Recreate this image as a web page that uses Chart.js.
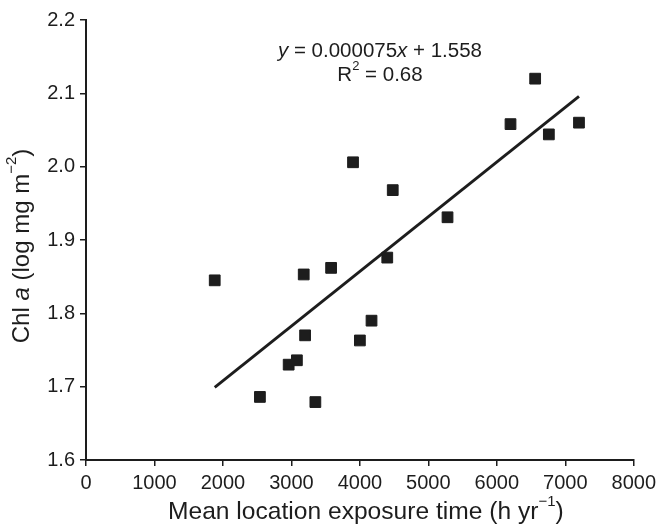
<!DOCTYPE html>
<html>
<head>
<meta charset="utf-8">
<script src="https://cdn.jsdelivr.net/npm/chart.js@4/dist/chart.umd.min.js"></script>
<style>
  html, body { margin: 0; padding: 0; background: #fff; }
  #wrap { width: 661px; height: 527px; position: relative; }
</style>
</head>
<body>
<div id="wrap"><canvas id="chart"></canvas></div>
<script>
// exposure time (h/yr) and chl a (log mg m-2)
var exposure = [1880, 2540, 2960, 3080, 3180, 3200, 3350, 3580, 3900, 4000, 4170, 4400, 4480, 5280, 6200, 6560, 6760, 7200]
var chl = [1.845, 1.686, 1.730, 1.736, 1.853, 1.770, 1.679, 1.862, 2.006, 1.763, 1.790, 1.876, 1.968, 1.931, 2.058, 2.120, 2.044, 2.060]

// fitted line end points
var fitX = [1880, 7200]
var fitY = [1.699, 2.096]

var xTicks = [0, 1000, 2000, 3000, 4000, 5000, 6000, 7000, 8000]
var yTicks = [1.6, 1.7, 1.8, 1.9, 2.0, 2.1, 2.2]

var ink = "#1d1d1d"
var FONT = "'Liberation Sans', Arial, sans-serif"

// draws a row of text pieces, some italic or superscript, centred on x
function drawRuns(ctx, runs, x, y, size){
    var fontOf = function(r){
        var s = r.sup ? Math.round(size*0.62) : size
        return (r.it ? "italic " : "") + s + "px " + FONT
    }
    var total = 0
    for (var i in runs){
        ctx.font = fontOf(runs[i])
        total += ctx.measureText(runs[i].t).width
    }
    var cx = x - total/2
    for (var i in runs){
        var r = runs[i]
        ctx.font = fontOf(r)
        ctx.fillText(r.t, cx, r.sup ? y - size*0.42 : y)
        cx += ctx.measureText(r.t).width
    }
}

var textPlugin = {
    id: "texts",
    afterDraw: function(chart){
        var ctx = chart.ctx
        var area = chart.chartArea
        ctx.save()
        ctx.fillStyle = ink
        ctx.textBaseline = "middle"
        ctx.textAlign = "left"

        // equation
        drawRuns(ctx, [{t:"y", it:true}, {t:" = 0.000075"}, {t:"x", it:true}, {t:" + 1.558"}], 380, 51, 20.5)
        drawRuns(ctx, [{t:"R"}, {t:"2", sup:true}, {t:" = 0.68"}], 380, 75, 20.5)

        // x title
        drawRuns(ctx, [{t:"Mean location exposure time (h yr"}, {t:"\u22121", sup:true}, {t:")"}],
            (area.left + area.right)/2 + 6, 512, 24.6)

        // y title
        ctx.translate(22, (area.top + area.bottom)/2 + 6)
        ctx.rotate(-Math.PI/2)
        drawRuns(ctx, [{t:"Chl "}, {t:"a", it:true}, {t:" (log mg m"}, {t:"\u22122", sup:true}, {t:")"}], 0, 0, 24)
        ctx.restore()
    }
}

var points = exposure.map(function(v, i){ return {x: v, y: chl[i]} })
var fit = fitX.map(function(v, i){ return {x: v, y: fitY[i]} })

const myChart = new Chart(document.getElementById("chart"), {
    type: 'scatter',
    data: {
        datasets: [{
            label: 'Chl a',
            data: points,
            pointStyle: 'rect',
            pointRadius: 7.6,
            pointHoverRadius: 7.6,
            backgroundColor: ink,
            borderColor: ink,
            borderWidth: 1
        }, {
            type: 'line',
            label: 'fit',
            data: fit,
            borderColor: ink,
            borderWidth: 2.9,
            pointRadius: 0,
            fill: false
        }]
    },
    options: {
        responsive: true,
        maintainAspectRatio: false,
        animation: false,
        layout: { padding: { left: 0, top: 20, right: 27, bottom: 0 } },
        plugins: {
            legend: { display: false },
            tooltip: { enabled: false }
        },
        scales: {
            x: {
                type: 'linear',
                min: xTicks[0],
                max: xTicks[xTicks.length - 1],
                afterBuildTicks: function(scale){ scale.ticks = xTicks.map(function(v){ return {value: v} }) },
                afterFit: function(scale){ scale.height = 67 },
                grid: { display: true, drawOnChartArea: false, color: ink, tickLength: 6, lineWidth: 1.5 },
                border: { display: true, color: ink, width: 2 },
                ticks: {
                    color: ink,
                    padding: 5,
                    maxRotation: 0,
                    font: { family: FONT, size: 20 },
                    callback: function(v){ return v }
                }
            },
            y: {
                type: 'linear',
                min: yTicks[0],
                max: yTicks[yTicks.length - 1],
                afterBuildTicks: function(scale){ scale.ticks = yTicks.map(function(v){ return {value: v} }) },
                afterFit: function(scale){ scale.width = 86 },
                grid: { display: true, drawOnChartArea: false, color: ink, tickLength: 6, lineWidth: 1.5 },
                border: { display: true, color: ink, width: 2 },
                ticks: {
                    color: ink,
                    padding: 5,
                    font: { family: FONT, size: 20 },
                    callback: function(v){ return v.toFixed(1) }
                }
            }
        }
    },
    plugins: [textPlugin]
});
</script>
</body>
</html>
